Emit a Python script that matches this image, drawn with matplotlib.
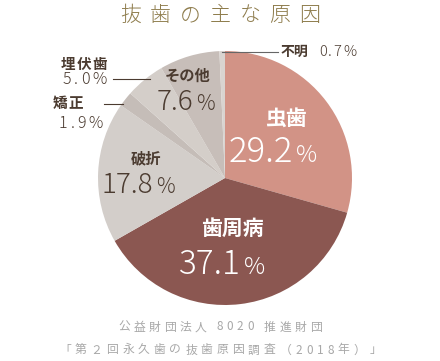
import matplotlib.pyplot as plt

plt.rcParams['font.family'] = ['Noto Sans CJK JP', 'DejaVu Sans']

labels = ['虫歯', '歯周病', '破折', '矯正', '埋伏歯', 'その他', '不明']
values = [29.2, 37.1, 17.8, 1.9, 5.0, 7.6, 0.7]
colors = ['#D29386', '#8B5751', '#D3CECA', '#C5BDB8', '#D4CEC9', '#C7BEB9', '#D9D4D0']

title = '抜歯の主な原因'
source1 = '公益財団法人 8020 推進財団'
source2 = '「第２回永久歯の抜歯原因調査（2018年）」'

W, H = 440, 361
fig = plt.figure(figsize=(W / 100, H / 100), dpi=100)
ax = fig.add_axes([0, 0, 1, 1])

cx, cy, r = 225, H - 178, 127
ax.pie(values, colors=colors, startangle=90, counterclock=False,
       center=(cx, cy), radius=r, wedgeprops=dict(linewidth=0))
ax.set_xlim(0, W)
ax.set_ylim(0, H)
ax.set_aspect('equal')
ax.axis('off')
renderer = fig.canvas.get_renderer()


def Y(py):
    return H - py


def spaced(x, y, s, track, ha='center', **kw):
    # draw text char by char with extra spacing (pixel units)
    arts, widths = [], []
    for ch in s:
        t = ax.text(0, y, ch, ha='left', va='center', **kw)
        w = t.get_window_extent(renderer).width if ch != ' ' else kw.get('fontsize', 10) * 0.4
        arts.append(t)
        widths.append(w)
    total = sum(widths) + track * (len(s) - 1)
    x0 = x - total / 2 if ha == 'center' else x
    for t, w in zip(arts, widths):
        t.set_x(x0)
        x0 += w + track


dark = '#4B3B30'
white = '#FFFFFF'

spaced(220, Y(15), title, 9, fontsize=15, color='#8E7C4C', fontweight='light')


def pct(x, y, num, size, psize, color, gap=3):
    ax.text(x + gap, y, num, fontsize=size, color=color, ha='right',
            va='baseline', fontweight='light')
    ax.text(x + gap + 3, y, '%', fontsize=psize, color=color, ha='left',
            va='baseline', fontweight='light')


# big labels inside
ax.text(286, Y(118), labels[0], fontsize=15, color=white, ha='center',
        va='center', fontweight='bold')
pct(290, Y(162), '29.2', 25, 17, white)

ax.text(232, Y(228), labels[1], fontsize=15, color=white, ha='center',
        va='center', fontweight='bold')
pct(238, Y(274), '37.1', 24, 17, white)

ax.text(146, Y(158), labels[2], fontsize=11, color=dark, ha='center',
        va='center', fontweight='bold')
pct(150, Y(193), '17.8', 20, 15, dark)

ax.text(188, Y(76), labels[5], fontsize=11, color=dark, ha='center',
        va='center', fontweight='bold')
pct(190, Y(110), '7.6', 20, 15, dark)

# outer labels with leader lines
spaced(84, Y(64), labels[4], 1.5, fontsize=10.5, color=dark, fontweight='bold')
spaced(85, Y(80), '5.0%', 3, fontsize=11.5, color=dark, fontweight='light')
ax.plot([113, 150], [Y(79), Y(79)], color=dark, lw=0.8)

spaced(68, Y(103), labels[3], 1.5, fontsize=10.5, color=dark, fontweight='bold')
spaced(81, Y(123), '1.9%', 3, fontsize=11.5, color=dark, fontweight='light')
ax.plot([104, 123], [Y(104), Y(104)], color=dark, lw=0.8)

ax.plot([222, 278], [Y(52), Y(52)], color='#666666', lw=0.8)
ax.text(281, Y(52), labels[6], fontsize=10, color=dark, ha='left',
        va='center', fontweight='bold')
spaced(319, Y(52), '0.7%', 1.5, ha='left', fontsize=10.5, color=dark,
       fontweight='light')

# source
spaced(220, Y(327), source1, 3.5, fontsize=8.5, color='#A8A8A8')
spaced(220, Y(350), source2, 4, fontsize=8.5, color='#A8A8A8')

fig.savefig('out.png', dpi=100)
